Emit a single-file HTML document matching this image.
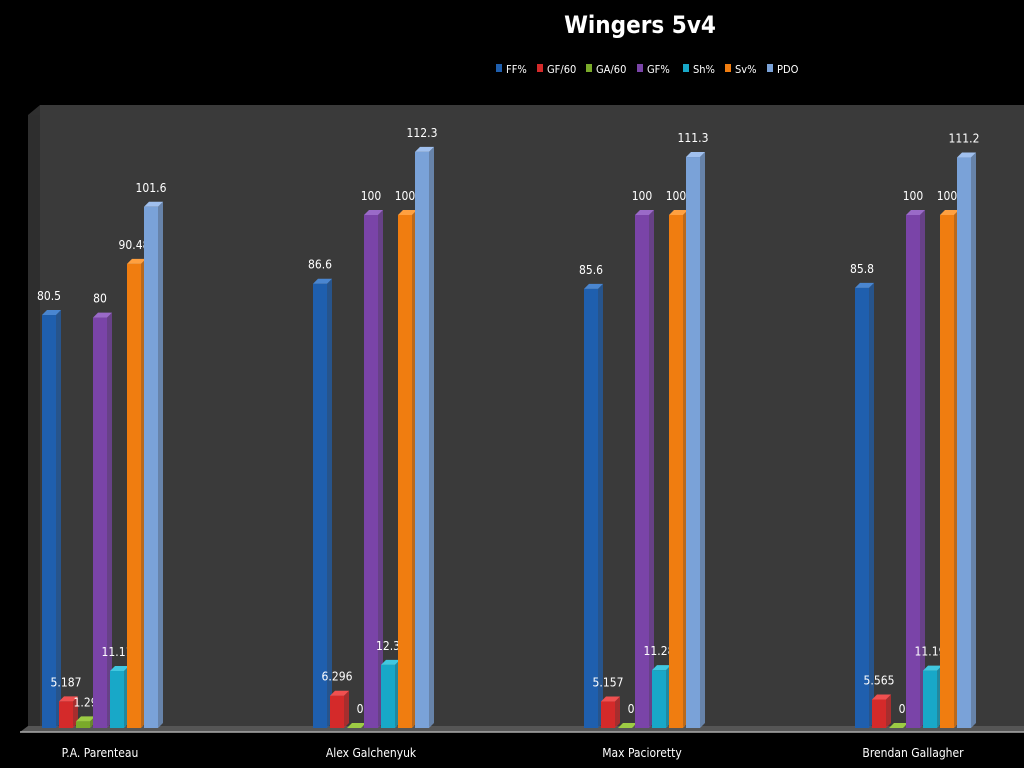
<!DOCTYPE html>
<html><head><meta charset="utf-8"><style>
html,body{margin:0;padding:0;background:#000;width:1024px;height:768px;overflow:hidden}
svg{display:block;font-family:"Liberation Sans Narrow","DejaVu Sans Condensed","Liberation Sans",sans-serif}
</style></head><body>
<svg id="chart" width="1024" height="768">
  <polygon points="28,115 40,105 1024,105 1024,728 28,728" fill="#2f2f2f"/>
  <rect x="40" y="105" width="984" height="623" fill="#3a3a3a"/>
  <rect x="28" y="115" width="12" height="613" fill="#2e2e2e"/>
  <polygon points="20,732 28,726 1024,726 1024,732" fill="#555"/>
  <line x1="20" y1="732" x2="1024" y2="732" stroke="#aaa" stroke-width="1.5"/>
  <text x="640" y="33" fill="#fff" font-size="24" font-weight="bold" text-anchor="middle">Wingers 5v4</text>
  <g id="legend"></g>
  <g id="bars"></g>
</svg>
<script>
const categories = ["P.A. Parenteau","Alex Galchenyuk","Max Pacioretty","Brendan Gallagher"];
const seriesNames = ["FF%","GF/60","GA/60","GF%","Sh%","Sv%","PDO"];
const ffPct = [80.5,86.6,85.6,85.8];
const gf60 = [5.187,6.296,5.157,5.565];
const ga60 = [1.297,0,0,0];
const gfPct = [80,100,100,100];
const shPct = [11.11,12.3,11.28,11.19];
const svPct = [90.48,100,100,100];
const pdo = [101.6,112.3,111.3,111.2];
const series = [ffPct,gf60,ga60,gfPct,shPct,svPct,pdo];
const colors = ["#1f5fae","#d42a2a","#7aaa2a","#7a44a8","#18a8c8","#f07d10","#7aa2d8"];
const tops = ["#4a86d0","#f05050","#9ccc44","#9a6ac8","#40c8e0","#ffa040","#a0c0ee"];
const NS="http://www.w3.org/2000/svg";
const base=728, scale=5.13;
const y = v => base - v*scale;
const groupX = i => 42 + i*271;
const barX = (i,s) => groupX(i) + s*17;
const bw=14, d=5;
const bars=document.getElementById('bars');
function mk(tag,attrs,parent){const e=document.createElementNS(NS,tag);for(const k in attrs)e.setAttribute(k,attrs[k]);parent.appendChild(e);return e;}
categories.forEach((c,i)=>{
  series.forEach((arr,s)=>{
    const v=arr[i], x=barX(i,s), t=y(v);
    const g=mk('g',{},bars);
    
    
    mk('rect',{x:x,y:t,width:bw,height:base-t,fill:colors[s]},g);
    mk('polygon',{points:`${x+bw},${t} ${x+bw+d},${t-d} ${x+bw+d},${base-d} ${x+bw},${base}`,fill:colors[s],opacity:0.7},g);
    mk('polygon',{points:`${x},${t} ${x+d},${t-d} ${x+bw+d},${t-d} ${x+bw},${t}`,fill:tops[s]},g);
    const lab=mk('text',{x:x+7+(s==2?6:0),y:t-15,fill:'#fff','font-size':12,'text-anchor':'middle'},g);
    lab.textContent=String(v);
    
    
  });
  const ct=mk('text',{x:groupX(i)+58,y:757,fill:'#fff','font-size':12,'text-anchor':'middle'},bars);
  ct.textContent=c;
  
  
});
const legend=document.getElementById('legend');
const lx=[496,537,586,637,683,725,767];
seriesNames.forEach((n,s)=>{
  const g=mk('g',{},legend);
  
  
  mk('rect',{x:lx[s],y:64,width:6,height:8,fill:colors[s]},g);
  const t=mk('text',{x:lx[s]+10,y:73,fill:'#fff','font-size':11},g);
  t.textContent=n;
});
</script>
</body></html>
